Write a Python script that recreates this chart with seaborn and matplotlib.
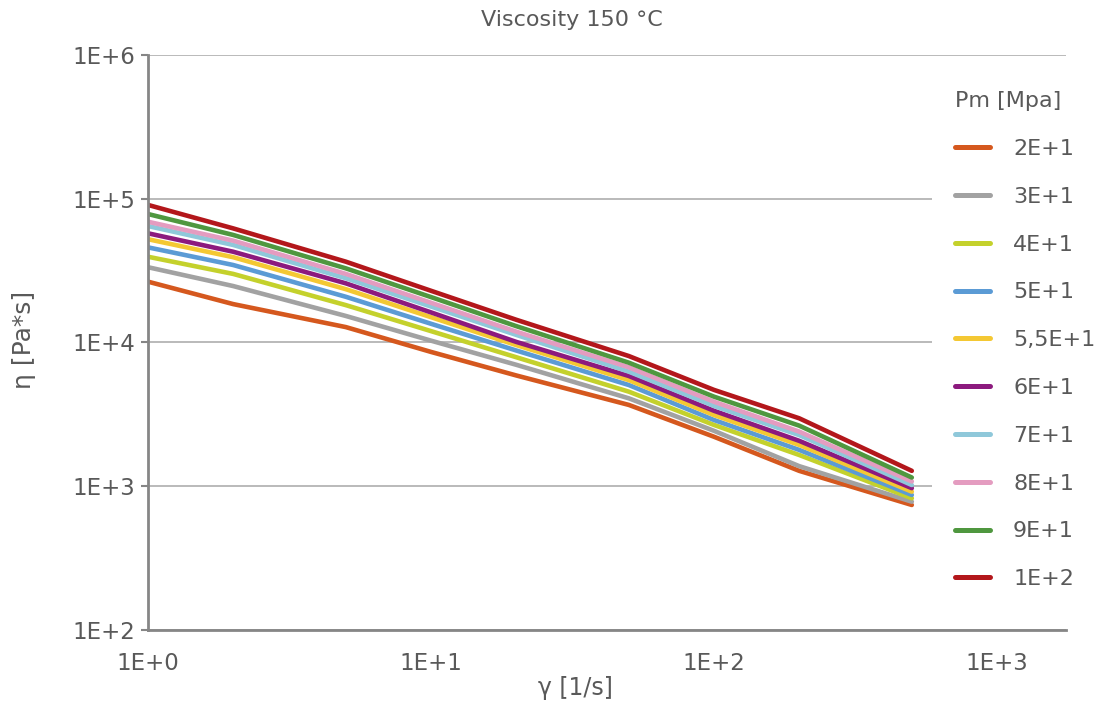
import numpy as np
import pandas as pd
import matplotlib
matplotlib.use("Agg")
import matplotlib.pyplot as plt
import seaborn as sns
from matplotlib.ticker import FixedLocator, FixedFormatter, NullLocator

# ---- data ----
shear_rate = [1, 2, 5, 10, 20, 50, 100, 200, 500]
pressures = ["2E+1", "3E+1", "4E+1", "5E+1", "5,5E+1", "6E+1", "7E+1", "8E+1", "9E+1", "1E+2"]
eta_20 = [26500, 18500, 12800, 8600, 5900, 3680, 2210, 1280, 741]
eta_30 = [33400, 24700, 15300, 10300, 7000, 4090, 2430, 1380, 781]
eta_40 = [39500, 30000, 18200, 12000, 7900, 4550, 2670, 1650, 825]
eta_50 = [45900, 34600, 20800, 13500, 8800, 5060, 2890, 1790, 870]
eta_55 = [52300, 39200, 23500, 15000, 9600, 5480, 3130, 1940, 917]
eta_60 = [57500, 42800, 25800, 16200, 10100, 5850, 3350, 2070, 970]
eta_70 = [64600, 47700, 28000, 17800, 11300, 6270, 3620, 2270, 1020]
eta_80 = [69200, 51100, 30000, 18900, 11900, 6720, 3870, 2400, 1080]
eta_90 = [78300, 56000, 32800, 20700, 13000, 7240, 4200, 2640, 1150]
eta_100 = [90600, 62200, 36500, 22900, 14400, 8050, 4680, 2970, 1280]
series = [eta_20, eta_30, eta_40, eta_50, eta_55, eta_60, eta_70, eta_80, eta_90, eta_100]

x_ticks = [1, 10, 100, 1000]
x_tick_labels = ["1E+0", "1E+1", "1E+2", "1E+3"]
y_ticks = [1e2, 1e3, 1e4, 1e5, 1e6]
y_tick_labels = ["1E+2", "1E+3", "1E+4", "1E+5", "1E+6"]

colors = ["#D5581E", "#A2A2A2", "#C4D12C", "#5B9BD5", "#F4C833",
          "#8C1A7E", "#8FC8DA", "#E49CC0", "#4F973F", "#B3171B"]

rows = []
for p, vals in zip(pressures, series):
    for x, v in zip(shear_rate, vals):
        rows.append({"shear": x, "eta": v, "Pm": p})
df = pd.DataFrame(rows)

sns.set_theme(style="white")
plt.rcParams["font.family"] = ["DejaVu Sans"]
txt = "#595959"

fig = plt.figure(figsize=(11.05, 7.11), dpi=100)
ax = fig.add_axes([148 / 1105, 1 - 630 / 711, (1066 - 148) / 1105, (630 - 55) / 711])

sns.lineplot(data=df, x="shear", y="eta", hue="Pm", hue_order=pressures,
             palette=colors, linewidth=3.3, ax=ax, sort=False,
             solid_capstyle="round", solid_joinstyle="round")

ax.set_xscale("log")
ax.set_yscale("log")
ax.set_xlim(1, 10 ** (918 / 283.0))
ax.set_ylim(1e2, 1e6)

ax.xaxis.set_major_locator(FixedLocator(x_ticks))
ax.xaxis.set_major_formatter(FixedFormatter(x_tick_labels))
ax.xaxis.set_minor_locator(NullLocator())
ax.yaxis.set_major_locator(FixedLocator(y_ticks))
ax.yaxis.set_major_formatter(FixedFormatter(y_tick_labels))
ax.yaxis.set_minor_locator(NullLocator())

ax.grid(axis="y", color="#B4B4B4", linewidth=1.3)
ax.grid(axis="x", visible=False)
for s in ["top", "right"]:
    ax.spines[s].set_visible(False)
for s in ["left", "bottom"]:
    ax.spines[s].set_color("#868686")
    ax.spines[s].set_linewidth(2.0)

ax.tick_params(axis="y", which="major", length=5, width=1.5, color="#868686",
               labelsize=16.5, labelcolor=txt, pad=4, left=True, direction="out")
ax.tick_params(axis="x", which="major", length=0, labelsize=16.5, labelcolor=txt, pad=16)

ax.set_xlabel("γ [1/s]", fontsize=17, color=txt)
ax.set_ylabel("η [Pa*s]", fontsize=18, color=txt)
ax.xaxis.set_label_coords((575 - 148) / 918, -(676 - 630) / 575)
ax.yaxis.set_label_coords(-(148 - 36) / 918, (630 - 340) / 575)

fig.text(572 / 1105, 1 - 20 / 711, "Viscosity 150 °C", ha="center", va="center",
         fontsize=16, color=txt)

leg = ax.legend(title="Pm [Mpa]", loc="upper left",
                bbox_to_anchor=(932 / 1105, 1 - 68 / 711), bbox_transform=fig.transFigure,
                frameon=True, facecolor="white", edgecolor="none", framealpha=1.0,
                fontsize=16, title_fontsize=16, labelspacing=1.25,
                handlelength=1.55, handletextpad=1.05, borderpad=1.05,
                borderaxespad=0, alignment="left")
for t in leg.get_texts():
    t.set_color(txt)
leg.get_title().set_color(txt)
for h in leg.get_lines():
    h.set_linewidth(3.6)
leg.set_zorder(10)

fig.savefig("out.png", dpi=100)
